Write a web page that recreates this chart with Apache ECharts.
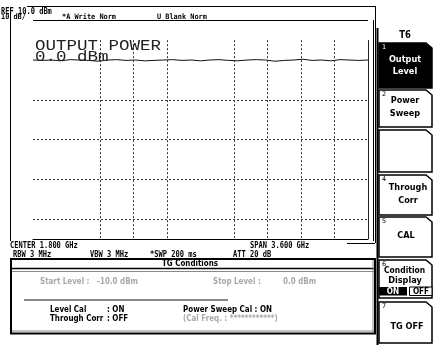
<!DOCTYPE html>
<html>
<head>
<meta charset="utf-8">
<script src="https://cdn.jsdelivr.net/npm/echarts@6/dist/echarts.min.js"></script>
<style>
html,body{margin:0;padding:0;background:#fff;}
#scr{width:433px;height:345px;}
</style>
</head>
<body>
<div id="scr"></div>
<script>
// Spectrum analyser screen: TG output power, 10 dB/div from REF 10 dBm
const refLevelDbm = 10;
const bottomDbm = -45;
const gridStartDbm = 5;          // vertical graticule lines start here
const spanGHz = 3.6;
const freqGHz = [0.0,0.1,0.2,0.3,0.4,0.5,0.6,0.7,0.8,0.9,1.0,1.1,1.2,1.3,1.4,1.5,1.6,1.7,1.8,
                 1.9,2.0,2.1,2.2,2.3,2.4,2.5,2.6,2.7,2.8,2.9,3.0,3.1,3.2,3.3,3.4,3.5,3.6];
const traceDbm = [0.0,-0.1,0.0,-0.2,0.1,0.0,-0.1,-0.3,0.0,0.1,-0.1,0.0,-0.2,-0.1,0.0,0.1,-0.1,0.0,-0.2,
                  0.0,0.1,-0.1,-0.2,0.0,0.1,0.0,-0.3,-0.1,0.0,0.2,-0.1,0.0,-0.2,0.1,0.0,-0.1,0.0];
const hGridDbm = [-10,-20,-30,-40];
const vGridGHz = [0.72,1.08,1.44,2.16,2.52,2.88,3.24];

const MONO = '"DejaVu Sans Mono", monospace';
const SANS = '"DejaVu Sans", sans-serif';

function txt(x, y, s, o) {
  o = o || {};
  return {
    type: 'text', x: x, y: y, z: 100, scaleX: o.sx || 0.88, silent: true,
    style: {
      text: s, fill: o.fill || '#000',
      font: (o.weight || 'bold') + ' ' + (o.size || 8) + 'px ' + (o.family || MONO),
      textAlign: o.align || 'left', textVerticalAlign: 'middle'
    }
  };
}
function ln(x1, y1, x2, y2, c, w) {
  return { type: 'line', z: 90, silent: true, shape: {x1, y1, x2, y2},
           style: {stroke: c || '#000', lineWidth: w || 1} };
}
function rect(x, y, w, h, fill, stroke, lw) {
  return { type: 'rect', z: 80, silent: true, shape: {x, y, width: w, height: h},
           style: {fill: fill || 'none', stroke: stroke || 'none', lineWidth: lw || 1} };
}
function key(y0, y1, fill) {
  return { type: 'polygon', z: 80, silent: true,
           shape: {points: [[379, y0], [426, y0], [432, y0 + 5], [432, y1], [379, y1]]},
           style: {fill: fill || '#fff', stroke: '#000', lineWidth: 1.5} };
}

const gridLines = hGridDbm.map(v => ({yAxis: v}))
  .concat(vGridGHz.map(g => [{coord: [g, gridStartDbm]}, {coord: [g, bottomDbm]}]))
  .concat([[{coord: [spanGHz, gridStartDbm], lineStyle: {type: 'solid', color: '#222'}},
            {coord: [spanGHz, bottomDbm]}]]);

const big = {family: '"Liberation Mono", monospace', size: 14, sx: 1.25, fill: '#222', weight: 'normal'};
const body = {family: SANS, size: 8.5, sx: 0.84};
const grey = Object.assign({}, body, {fill: '#a8a8a8'});
const sk = {family: SANS, size: 9.5, sx: 0.86, align: 'center'};
const skW = Object.assign({}, sk, {fill: '#fff'});
const num = {family: SANS, size: 6.5, sx: 1, weight: 'normal'};
const hdr = {size: 7.5, sx: 0.92};

const graphics = [
  // outer display frame
  ln(27, 6.5, 375, 6.5), ln(10.5, 8, 10.5, 241), ln(375.5, 6, 375.5, 243), ln(347, 243.5, 375, 243.5),
  ln(373.5, 20, 373.5, 241),
  // header annotations
  txt(1, 11.5, 'REF 10.0 dBm'),
  txt(1, 17.5, '10 dB/', hdr),
  txt(62, 17.5, '*A_Write Norm', hdr),
  txt(157, 17.5, 'U_Blank Norm', hdr),
  // large readout
  txt(35, 46, 'OUTPUT POWER', big),
  txt(35, 57, '0.0 dBm', big),
  // footer annotations
  txt(10, 245.5, 'CENTER 1.800 GHz'),
  txt(250, 245.5, 'SPAN 3.600 GHz'),
  txt(13, 254.5, 'RBW 3 MHz'),
  txt(90, 254.5, 'VBW 3 MHz'),
  txt(150, 254.5, '*SWP 200 ms'),
  txt(233, 254.5, 'ATT 20 dB'),
  // TG conditions window
  rect(11, 259, 364, 74.5, '#fff', '#000', 2),
  ln(12, 268.5, 374, 268.5, '#000', 1.5),
  ln(12, 271.5, 374, 271.5, '#888', 1),
  ln(12, 331, 374, 331, '#888', 1),
  ln(373, 260, 373, 332, '#888', 1),
  txt(190, 264, 'TG Conditions', Object.assign({}, body, {align: 'center'})),
  txt(40, 282, 'Start Level :', grey),
  txt(97, 282, '-10.0 dBm', grey),
  txt(213, 282, 'Stop Level :', grey),
  txt(283, 282, '0.0 dBm', grey),
  ln(24, 300, 228, 300, '#888', 2),
  txt(50, 310, 'Level Cal', body),
  txt(107, 310, ': ON', body),
  txt(50, 318.5, 'Through Corr', body),
  txt(107, 318.5, ': OFF', body),
  txt(183, 310, 'Power Sweep Cal : ON', body),
  txt(183, 318.5, '(Cal Freq. : ************)', grey),
  // soft key panel
  ln(377.5, 28, 377.5, 345, '#000', 2),
  txt(405, 35, 'T6', {family: SANS, size: 10, sx: 0.85, align: 'center'}),
  key(43, 88, '#000'),
  txt(382, 47, '1', Object.assign({}, num, {fill: '#fff'})),
  txt(405, 60, 'Output', skW), txt(405, 72, 'Level', skW),
  key(90, 127),
  txt(382, 94, '2', num), txt(405, 101, 'Power', sk), txt(405, 114, 'Sweep', sk),
  key(130, 172),
  key(175, 215),
  txt(382, 179, '4', num), txt(408, 188, 'Through', sk), txt(408, 201, 'Corr', sk),
  key(217, 257),
  txt(382, 221, '5', num), txt(406, 236, 'CAL', sk),
  key(260, 298),
  txt(382, 264, '6', num),
  txt(384, 271, 'Condition', Object.assign({}, sk, {align: 'left', sx: 0.8})),
  txt(405, 280.5, 'Display', sk),
  rect(379, 287, 28, 8.5, '#000'),
  txt(393, 291.5, 'ON', Object.assign({}, skW, {size: 8.5})),
  rect(409.5, 287, 22.5, 8.5, '#fff', '#000', 1),
  txt(421, 291.5, 'OFF', Object.assign({}, sk, {size: 8.5})),
  key(302, 343),
  txt(382, 306, '7', num), txt(407, 327, 'TG OFF', sk)
];

const chart = echarts.init(document.getElementById('scr'), null, {renderer: 'canvas'});
chart.setOption({
  animation: false,
  backgroundColor: '#fff',
  grid: {left: 33, right: 65, top: 20.25, bottom: 106},
  xAxis: {
    type: 'value', min: 0, max: spanGHz,
    axisLine: {show: true, onZero: false, lineStyle: {color: '#000', width: 1}},
    axisTick: {show: false}, axisLabel: {show: false}, splitLine: {show: false}
  },
  yAxis: {
    type: 'value', min: bottomDbm, max: refLevelDbm,
    axisLine: {show: false}, axisTick: {show: false}, axisLabel: {show: false}, splitLine: {show: false}
  },
  series: [{
    type: 'line',
    data: freqGHz.map((f, i) => [f, traceDbm[i]]),
    showSymbol: false,
    lineStyle: {color: '#111', width: 1},
    markLine: {
      silent: true, symbol: 'none', label: {show: false},
      lineStyle: {type: [2, 2], color: '#333', width: 1},
      data: gridLines
    }
  }, {
    // top graticule edge at the reference level
    type: 'line', data: [], showSymbol: false,
    markLine: {
      silent: true, symbol: 'none', label: {show: false},
      lineStyle: {type: 'solid', color: '#000', width: 1},
      data: [[{coord: [0, refLevelDbm]}, {coord: [spanGHz, refLevelDbm]}]]
    }
  }],
  graphic: graphics
});
</script>
</body>
</html>
